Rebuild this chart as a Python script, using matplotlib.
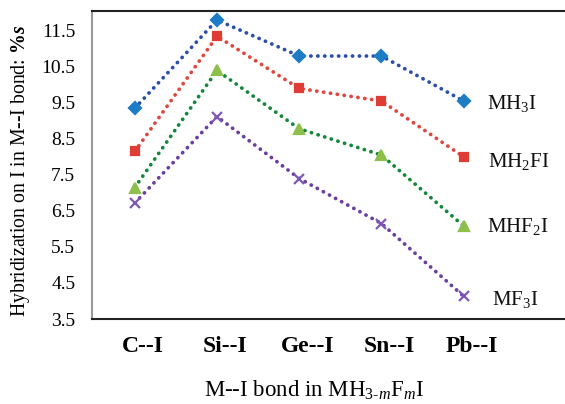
import matplotlib
matplotlib.use("Agg")
import matplotlib.pyplot as plt

# ── Data ──────────────────────────────────────────────────────────────────────
bonds = ["C--I", "Si--I", "Ge--I", "Sn--I", "Pb--I"]
series_names = [r"$\mathrm{MH_3I}$", r"$\mathrm{MH_2FI}$",
                r"$\mathrm{MHF_2I}$", r"$\mathrm{MF_3I}$"]
mh3i  = [9.35, 11.80, 10.80, 10.80, 9.55]
mh2fi = [8.15, 11.35, 9.90, 9.55, 8.00]
mhf2i = [7.15, 10.40, 8.78, 8.05, 6.08]
mf3i  = [6.72, 9.12, 7.40, 6.15, 4.13]
yticks = [3.5, 4.5, 5.5, 6.5, 7.5, 8.5, 9.5, 10.5, 11.5]

# ── Style ─────────────────────────────────────────────────────────────────────
plt.rcParams["font.family"] = ["Liberation Serif", "DejaVu Serif"]
plt.rcParams["mathtext.fontset"] = "custom"
plt.rcParams["mathtext.rm"] = "Liberation Serif"
plt.rcParams["mathtext.it"] = "Liberation Serif:italic"
plt.rcParams["mathtext.bf"] = "Liberation Serif:bold"
plt.rcParams["mathtext.bfit"] = "Liberation Serif:italic:bold"

styles = [
    dict(line="#2B4FA8", mark="#1C7CC6", marker="D", ms=6.5),
    dict(line="#E0463E", mark="#E03C36", marker="s", ms=6.0),
    dict(line="#14883A", mark="#8CC04A", marker="^", ms=7.5),
    dict(line="#6A3FA0", mark="#7E58B4", marker="x", ms=7.0),
]
label_dx = [0.28, 0.30, 0.28, 0.34]
label_dy = [-0.08, -0.14, 0.0, -0.08]

fig = plt.figure(figsize=(5.65, 4.04), dpi=100)
ax = fig.add_axes([92 / 565, 85 / 404, 1 - 92 / 565 + 0.01, 308 / 404])

x = list(range(len(bonds)))
for name, vals, st, dx, dy in zip(series_names, [mh3i, mh2fi, mhf2i, mf3i],
                                  styles, label_dx, label_dy):
    ax.plot(x, vals, color=st["line"], lw=2.7, linestyle=(0, (0.05, 1.8)),
            dash_capstyle="round", solid_capstyle="round", zorder=2)
    ax.plot(x, vals, linestyle="none", marker=st["marker"], ms=st["ms"],
            color=st["mark"], mec=st["mark"], mew=1.6, zorder=3)
    ax.text(x[-1] + dx, vals[-1] + dy, name, ha="left", va="center",
            fontsize=15, color="#111111")

ax.set_xlim(-0.52, 5.3)
ax.set_ylim(3.5, 12.05)
ax.set_yticks(yticks)
ax.set_yticklabels([f"{v:.1f}" for v in yticks], fontsize=14)
# category labels sit a little right of the points, as in the source figure
ax.set_xticks([i + 0.1 for i in x])
ax.set_xticklabels(bonds, fontsize=17, fontweight="bold")
ax.tick_params(axis="y", length=0, pad=12)
ax.tick_params(axis="x", length=0, pad=12)

ax.spines["right"].set_visible(False)
ax.spines["left"].set_color("#9a9a9a")
ax.spines["left"].set_linewidth(1.5)
for s in ("top", "bottom"):
    ax.spines[s].set_color("#222222")
    ax.spines[s].set_linewidth(1.5)

fig.text(21 / 565, 1 - 171 / 404,
         r"Hybridization on I in M--I bond: $\mathbf{\%}\mathbfit{s}$",
         rotation=90, ha="center", va="center", fontsize=14.2)
fig.text(314 / 565, 7 / 404,
         r"M--I bond in $\mathrm{MH}_{3\text{-}m}\mathrm{F}_{m}\mathrm{I}$",
         ha="center", va="baseline", fontsize=16.5)

fig.savefig("out.png", dpi=100)
